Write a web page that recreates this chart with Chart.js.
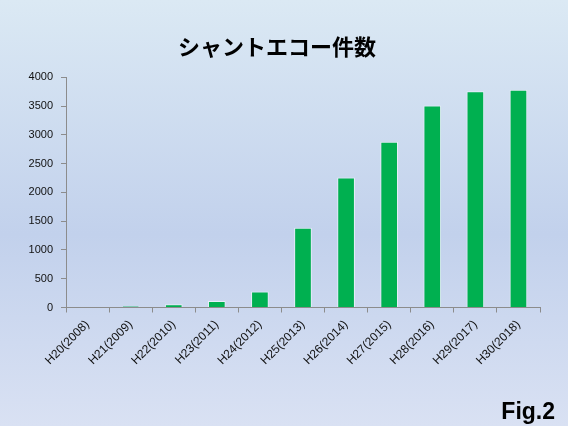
<!DOCTYPE html>
<html>
<head>
<meta charset="utf-8">
<script src="https://cdn.jsdelivr.net/npm/chart.js@4/dist/chart.umd.min.js"></script>
<style>
  html, body { margin: 0; padding: 0; }
  body { width: 568px; height: 426px; overflow: hidden; }
  #wrap { position: relative; width: 568px; height: 426px; }
</style>
</head>
<body>
<div id="wrap"><canvas id="c" width="568" height="426"></canvas></div>
<script>
// 年度ごとのシャントエコー件数
const categories = ['H20(2008)', 'H21(2009)', 'H22(2010)', 'H23(2011)', 'H24(2012)', 'H25(2013)',
                    'H26(2014)', 'H27(2015)', 'H28(2016)', 'H29(2017)', 'H30(2018)'];
const counts = [10, 22, 55, 115, 280, 1385, 2260, 2880, 3510, 3760, 3785];
const yTicks = [0, 500, 1000, 1500, 2000, 2500, 3000, 3500, 4000];

const titleText = 'シャントエコー件数';
const figLabel = 'Fig.2';

// slide-style background gradient plus the figure number
const backdrop = {
  id: 'backdrop',
  beforeDraw(chart) {
    const ctx = chart.ctx;
    const g = ctx.createLinearGradient(0, 0, 0, chart.height);
    g.addColorStop(0, '#dbe9f4');
    g.addColorStop(0.55, '#c2d1ec');
    g.addColorStop(1, '#d9e1f3');
    ctx.save();
    ctx.fillStyle = g;
    ctx.fillRect(0, 0, chart.width, chart.height);
    ctx.restore();
  },
  afterDraw(chart) {
    const ctx = chart.ctx;
    ctx.save();
    ctx.font = 'bold 23px "Liberation Sans", Arial, sans-serif';
    ctx.fillStyle = '#000';
    ctx.textAlign = 'right';
    ctx.textBaseline = 'alphabetic';
    ctx.fillText(figLabel, 555, 419);
    ctx.restore();
  }
};

new Chart(document.getElementById('c'), {
  type: 'bar',
  data: {
    labels: categories,
    datasets: [{
      data: counts,
      backgroundColor: '#00b050',
      borderColor: 'rgba(235,242,250,0.9)',
      borderWidth: 1,
      borderSkipped: 'bottom',
      barPercentage: 0.41,
      categoryPercentage: 1
    }]
  },
  options: {
    responsive: false,
    animation: false,
    devicePixelRatio: 1,
    layout: { padding: { left: 14, right: 28, top: 0, bottom: 0 } },
    plugins: {
      legend: { display: false },
      tooltip: { enabled: false },
      title: {
        display: true,
        text: titleText,
        color: '#000',
        font: { family: '"Noto Sans CJK JP", sans-serif', size: 22, weight: 'bold', lineHeight: 1.2 },
        padding: { top: 33, bottom: 18 }
      }
    },
    scales: {
      x: {
        grid: { display: true, drawOnChartArea: false, offset: true, color: '#8c8c8c', tickLength: 5, tickWidth: 1 },
        border: { display: true, color: '#8c8c8c', width: 1 },
        ticks: {
          color: '#111',
          font: { family: '"Liberation Sans", Arial, sans-serif', size: 12 },
          maxRotation: 45,
          minRotation: 45,
          autoSkip: false,
          padding: 5
        },
        afterFit(scale) { scale.height = 118.5; }
      },
      y: {
        min: 0,
        max: 4000,
        afterBuildTicks(scale) { scale.ticks = yTicks.map(v => ({ value: v })); },
        grid: { display: true, drawOnChartArea: false, color: '#8c8c8c', tickLength: 5, tickWidth: 1 },
        border: { display: true, color: '#8c8c8c', width: 1 },
        ticks: {
          color: '#111',
          font: { family: '"Liberation Sans", Arial, sans-serif', size: 11 },
          padding: 8,
          callback: v => String(v)
        },
        afterFit(scale) { scale.width = 52; }
      }
    }
  },
  plugins: [backdrop]
});
</script>
</body>
</html>
